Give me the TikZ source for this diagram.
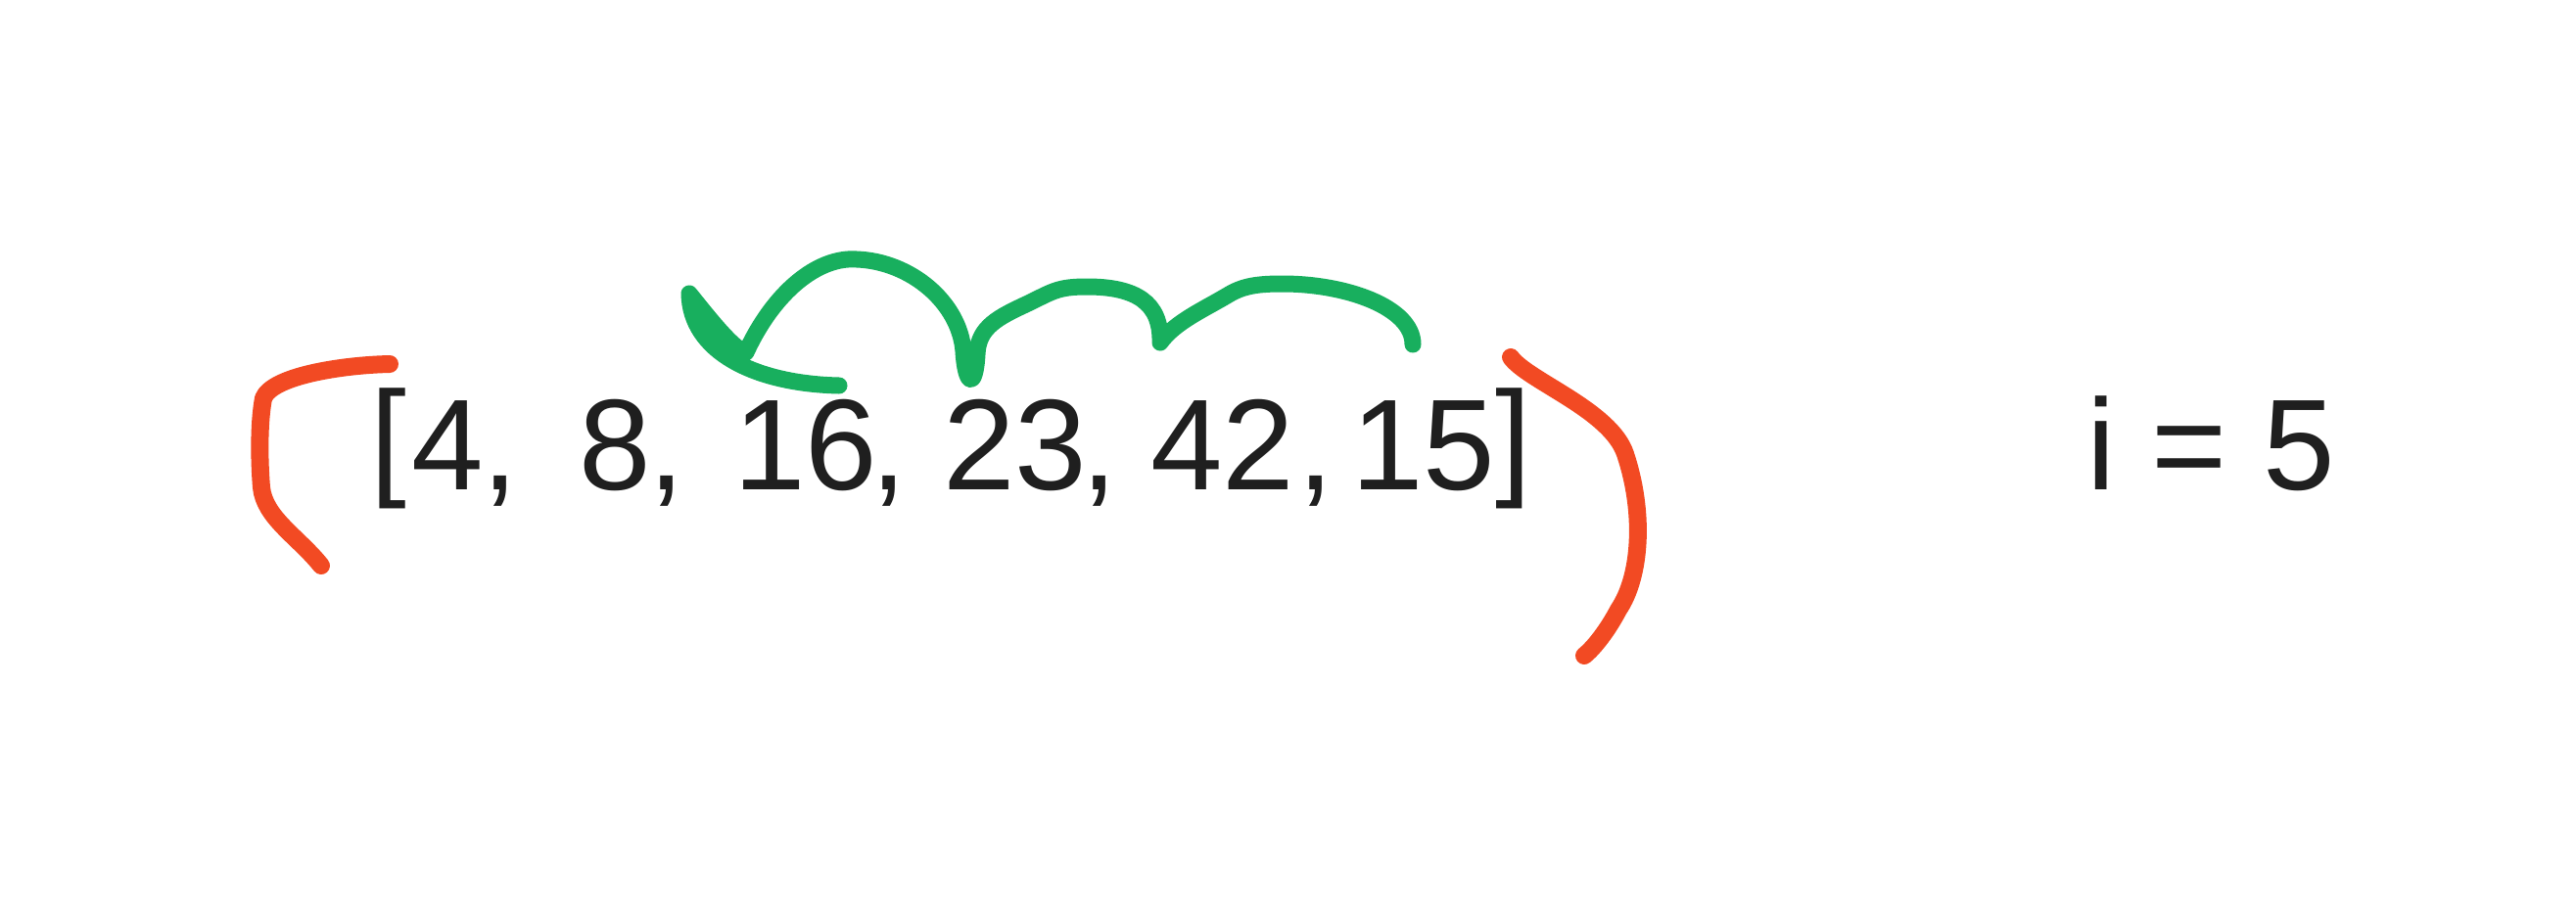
\documentclass[tikz,border=0pt]{standalone}
\usepackage{fontspec}
\setmainfont{Liberation Sans}
\usepackage{tikz}
\definecolor{ink}{HTML}{1F1F1F}
\definecolor{penred}{HTML}{F24A23}
\definecolor{pengreen}{HTML}{18AF5E}
\tikzset{
  num/.style={anchor=base, inner sep=0pt, text=ink, font=\fontsize{37.6}{45}\selectfont},
  redpen/.style={penred, line width=0.18cm, line cap=round, line join=round},
  greenpen/.style={pengreen, line width=0.17cm, line cap=round, line join=round}
}
\begin{document}
\begin{tikzpicture}
\fill[white] (0,0) rectangle (26.31,9.34);
\useasboundingbox (0,0) rectangle (26.31,9.34);

% the list
\node[num] (lbr) at (3.965,4.42) {[};
\node[num] (n4) at (4.572,4.333) {4};
\node[num] (c1) at (5.104,4.333) {,};
\node[num] (n8) at (6.278,4.333) {8};
\node[num] (c2) at (6.804,4.333) {,};
\node[num] (n16) at (8.226,4.333) {16};
\node[num] (c3) at (9.074,4.333) {,};
\node[num] (n23) at (10.367,4.333) {23};
\node[num] (c4) at (11.228,4.333) {,};
\node[num] (n42) at (12.486,4.333) {42};
\node[num] (c5) at (13.437,4.333) {,};
\node[num] (n15) at (14.538,4.333) {15};
\node[num] (rbr) at (15.455,4.42) {]};

\node[num] (idx) at (22.58,4.335) {i = 5};

% brackets drawn by hand
\draw[redpen] (3.98,5.62) .. controls (3.5,5.61) and (2.78,5.50) .. (2.69,5.27)
      .. controls (2.64,5.0) and (2.65,4.6) .. (2.67,4.36)
      .. controls (2.70,4.05) and (3.05,3.85) .. (3.28,3.56);
\draw[redpen] (15.43,5.69) .. controls (15.6,5.45) and (16.45,5.15) .. (16.60,4.70)
      .. controls (16.80,4.1) and (16.76,3.45) .. (16.53,3.11)
      .. controls (16.42,2.90) and (16.28,2.72) .. (16.18,2.64);

% hops back along the list
\draw[greenpen] (8.57,5.40) .. controls (7.7,5.42) and (7.05,5.75) .. (7.04,6.34)
      .. controls (7.25,6.08) and (7.50,5.76) .. (7.62,5.74)
      .. controls (7.9,6.35) and (8.35,6.72) .. (8.75,6.69)
      .. controls (9.3,6.67) and (9.80,6.25) .. (9.84,5.75)
      .. controls (9.86,5.40) and (9.96,5.35) .. (9.98,5.72)
      .. controls (9.99,6.0) and (10.2,6.10) .. (10.5,6.24)
      .. controls (10.75,6.36) and (10.8,6.41) .. (11.10,6.41)
      .. controls (11.6,6.41) and (11.86,6.25) .. (11.85,5.84)
      .. controls (12.0,6.05) and (12.3,6.18) .. (12.55,6.33)
      .. controls (12.7,6.42) and (12.85,6.44) .. (13.10,6.44)
      .. controls (13.75,6.44) and (14.43,6.2) .. (14.43,5.82);
\end{tikzpicture}
\end{document}
